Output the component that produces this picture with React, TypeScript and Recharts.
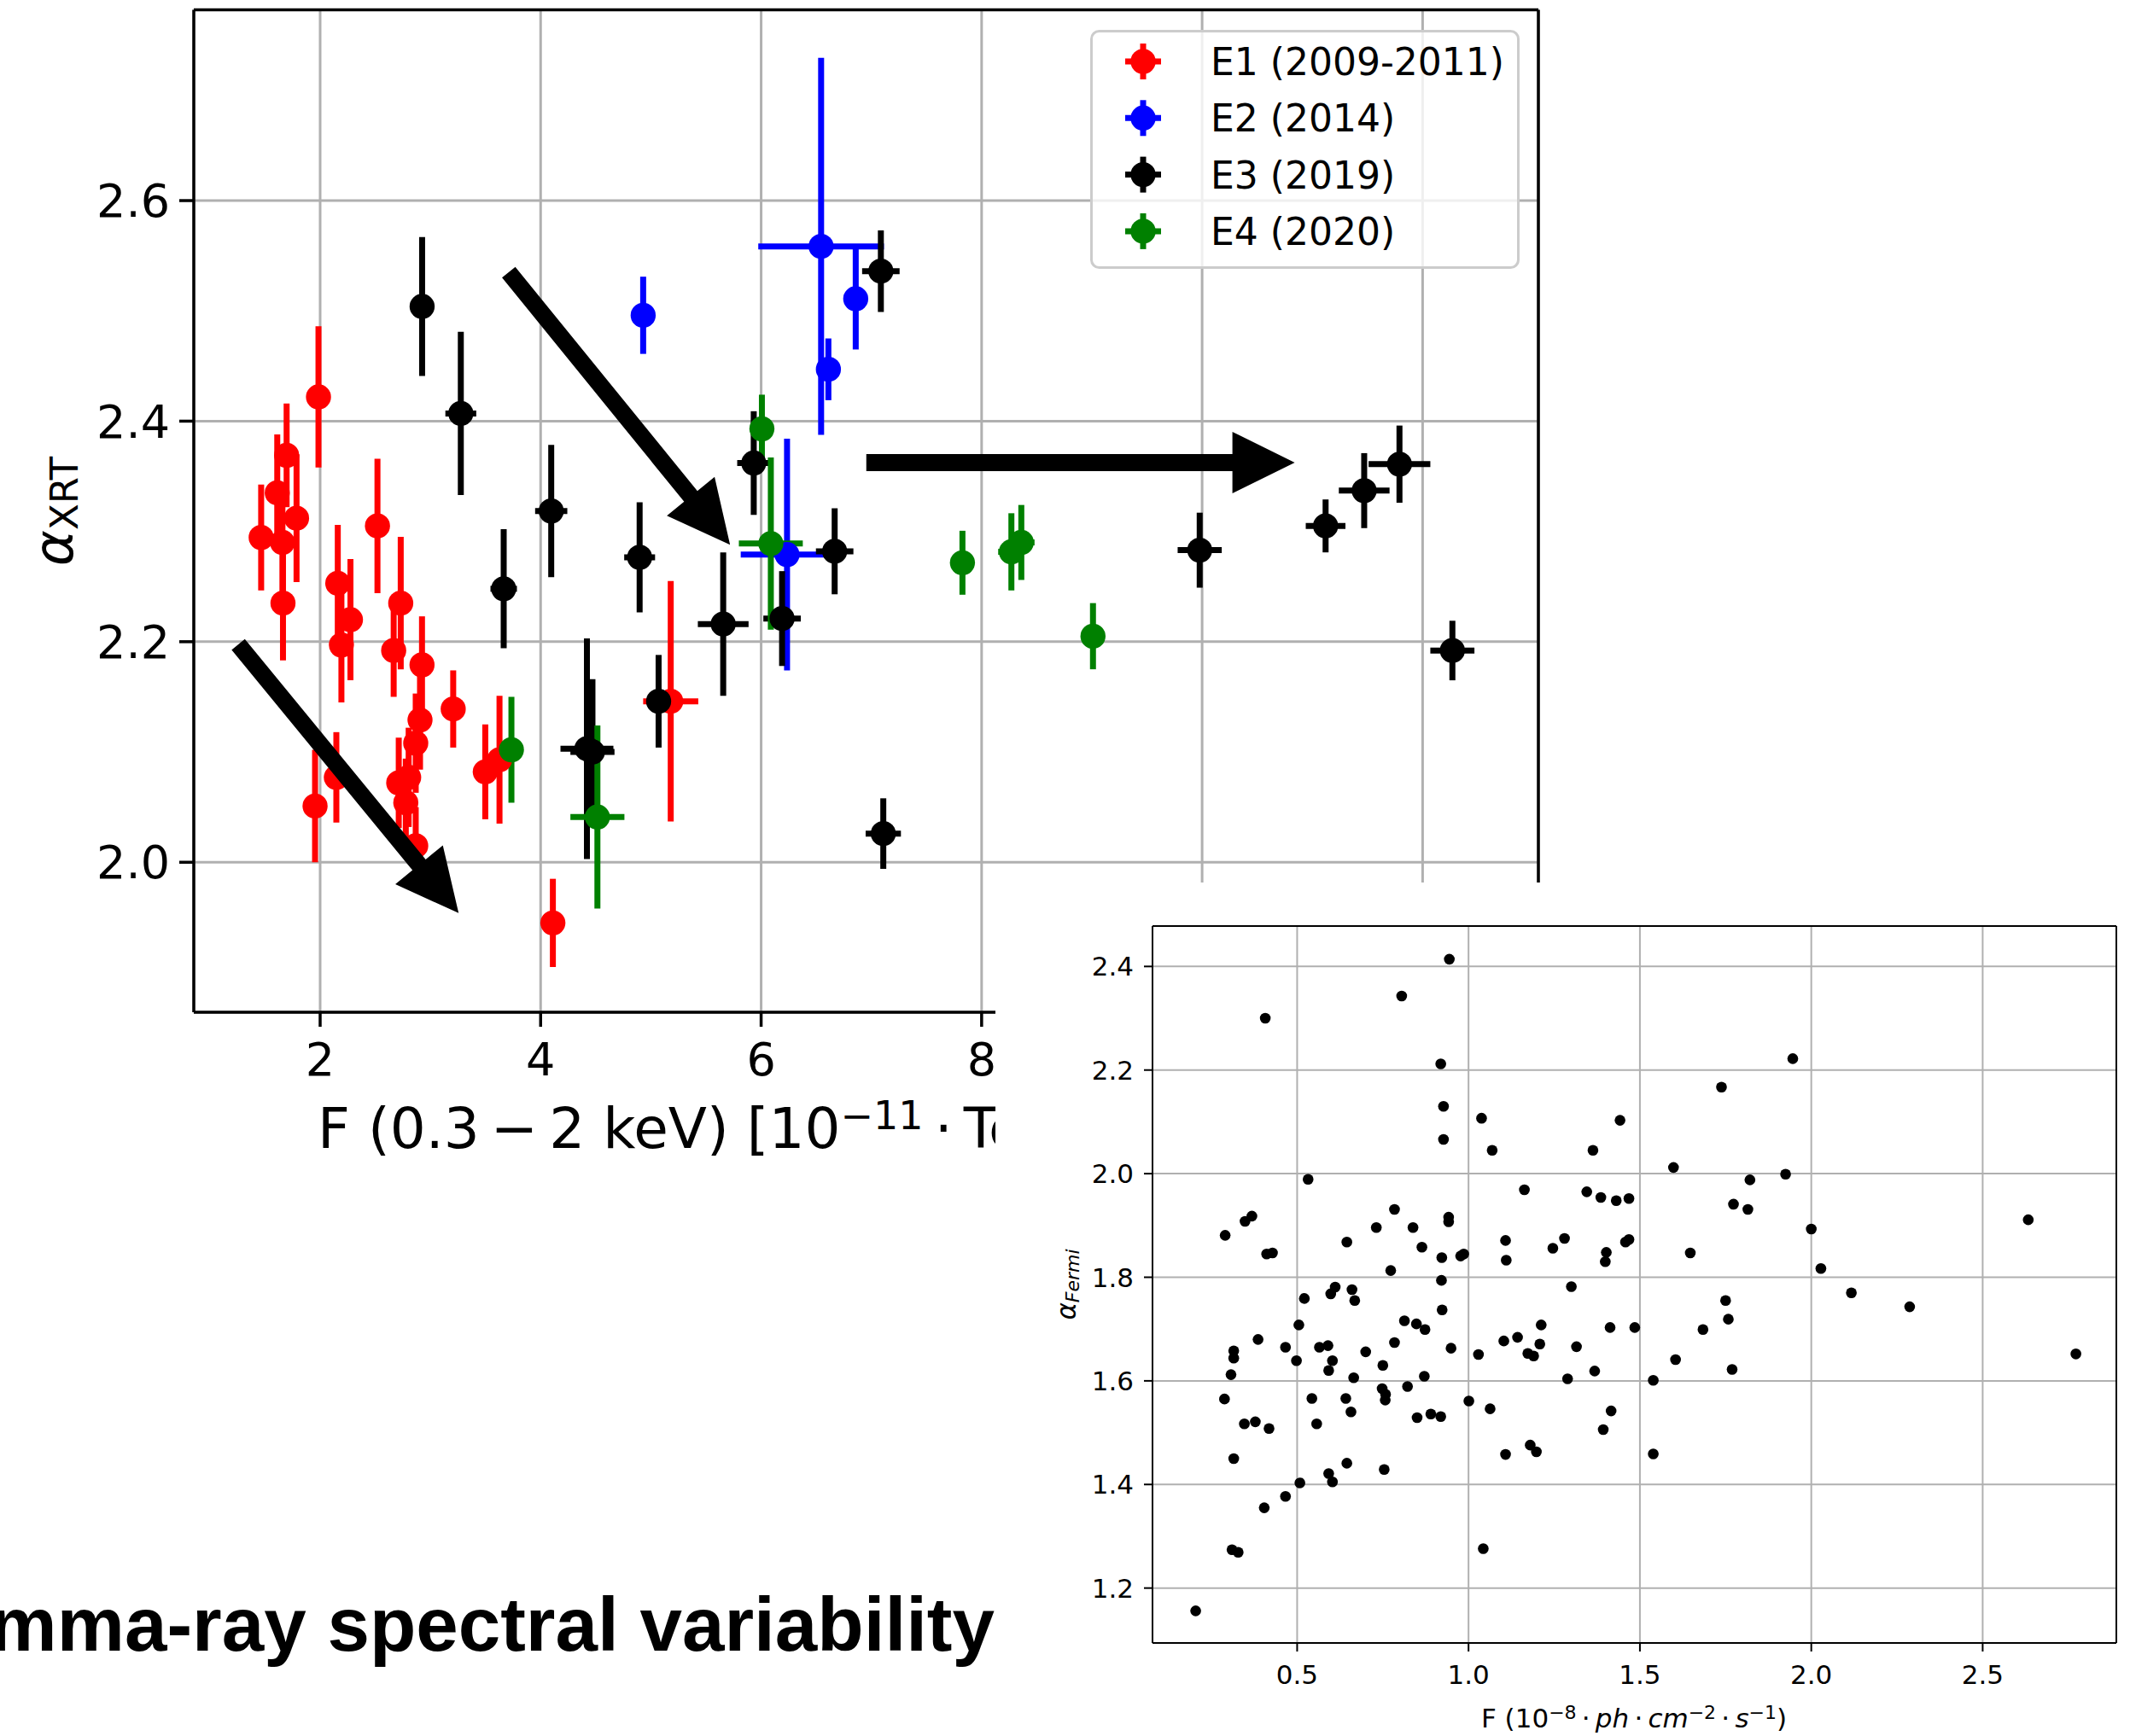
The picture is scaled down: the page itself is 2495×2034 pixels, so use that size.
import React from "react";
import { ScatterChart, Scatter, XAxis, YAxis, CartesianGrid, ErrorBar, ReferenceLine } from "recharts";

const FONT = "'DejaVu Sans', sans-serif";

// Swift-XRT photon index vs 0.3-2 keV flux, one group per epoch
const E1_FLUX = [1.465, 1.611, 1.696, 1.658, 1.786, 1.663, 1.985, 2.16, 2.275, 2.193, 2.52, 2.731, 2.667, 2.924, 2.906, 2.867, 3.207, 3.498, 3.627, 1.954, 2.147, 2.713, 2.803, 2.777, 2.867, 4.111, 5.18];
const E1_ALPHA = [2.2945, 2.335, 2.369, 2.29, 2.312, 2.235, 2.422, 2.253, 2.22, 2.197, 2.305, 2.235, 2.192, 2.179, 2.129, 2.108, 2.139, 2.082, 2.093, 2.051, 2.077, 2.072, 2.077, 2.054, 2.015, 1.945, 2.146];
const E1_FLUX_ERR = [0.06, 0.06, 0.06, 0.06, 0.06, 0.06, 0.06, 0.06, 0.06, 0.06, 0.06, 0.06, 0.06, 0.06, 0.06, 0.06, 0.06, 0.06, 0.06, 0.06, 0.06, 0.06, 0.06, 0.06, 0.06, 0.06, 0.25];
const E1_ALPHA_ERR = [0.048, 0.053, 0.047, 0.05, 0.058, 0.052, 0.064, 0.053, 0.055, 0.052, 0.061, 0.06, 0.042, 0.044, 0.045, 0.045, 0.035, 0.043, 0.058, 0.051, 0.041, 0.041, 0.045, 0.04, 0.035, 0.04, 0.109];

const E2_FLUX = [4.93, 6.544, 6.858, 6.61, 6.235];
const E2_ALPHA = [2.496, 2.5585, 2.511, 2.447, 2.279];
const E2_FLUX_ERR = [0.08, 0.57, 0.1, 0.1, 0.42];
const E2_ALPHA_ERR = [0.035, 0.171, 0.046, 0.028, 0.105];

const E3_FLUX = [2.925, 3.276, 4.096, 3.665, 4.898, 5.656, 5.07, 4.42, 4.47, 5.933, 6.19, 6.667, 7.086, 7.108, 9.978, 11.12, 11.47, 11.79, 12.27];
const E3_ALPHA = [2.504, 2.407, 2.3185, 2.248, 2.2765, 2.216, 2.146, 2.103, 2.1, 2.362, 2.221, 2.282, 2.536, 2.026, 2.283, 2.305, 2.337, 2.361, 2.192];
const E3_FLUX_ERR = [0.08, 0.14, 0.146, 0.12, 0.14, 0.23, 0.1, 0.24, 0.2, 0.15, 0.17, 0.17, 0.17, 0.16, 0.2, 0.18, 0.23, 0.28, 0.2];
const E3_ALPHA_ERR = [0.063, 0.074, 0.06, 0.054, 0.05, 0.065, 0.042, 0.1, 0.066, 0.047, 0.043, 0.039, 0.037, 0.032, 0.034, 0.024, 0.034, 0.035, 0.027];

const E4_FLUX = [3.735, 4.515, 6.007, 6.088, 7.826, 8.27, 8.36, 9.01];
const E4_ALPHA = [2.102, 2.041, 2.393, 2.289, 2.2716, 2.2815, 2.29, 2.205];
const E4_FLUX_ERR = [0.08, 0.245, 0.08, 0.29, 0.1, 0.12, 0.12, 0.1];
const E4_ALPHA_ERR = [0.048, 0.083, 0.031, 0.078, 0.029, 0.035, 0.034, 0.03];

const SERIES_NAMES = ["E1 (2009-2011)", "E2 (2014)", "E3 (2019)", "E4 (2020)"];
const SERIES_COLORS = ["#ff0000", "#0000ff", "#000000", "#008000"];

const MAIN_X_TICKS = [2, 4, 6, 8, 10, 12];
const MAIN_Y_TICKS = [2.0, 2.2, 2.4, 2.6];
const MAIN_X_MIN = 0.854;
const MAIN_X_MAX = 13.05;
const MAIN_Y_MIN = 1.864;
const MAIN_Y_MAX = 2.773;

// annotation arrows, in data units of the main plot
const ARROW_FROM_F = [3.71, 1.257, 6.954];
const ARROW_FROM_ALPHA = [2.535, 2.1975, 2.3625];
const ARROW_TO_F = [5.718, 3.256, 10.84];
const ARROW_TO_ALPHA = [2.288, 1.954, 2.3625];

// Fermi-LAT inset: photon index vs flux
const FERMI_FLUX = [
  0.944, 0.805, 0.407, 0.919, 0.927, 1.038, 0.927, 1.069, 0.532, 0.784, 0.368, 0.348, 0.29, 0.942, 0.942, 0.731, 0.838, 0.645, 0.864, 0.411, 0.428, 0.922, 0.977, 0.986, 1.108, 1.11, 0.773, 0.921,
  1.946, 1.738, 1.442, 1.363, 1.598, 1.925, 1.821, 1.163, 1.345, 1.386, 1.431, 1.468, 1.773, 1.815, 2.0, 1.28, 1.246, 1.402, 1.399, 1.458, 1.468, 1.647, 2.028,
  0.611, 0.598, 0.66, 0.668, 0.521, 0.923, 0.505, 0.813, 0.848, 0.873, 1.103, 0.386, 0.315, 0.315, 0.307, 0.466, 0.565, 0.59, 0.498, 0.603, 0.592, 0.7, 0.784, 0.949, 1.029, 0.75, 0.665, 0.871, 0.822, 0.748, 0.758, 0.757, 0.288, 0.543, 0.642, 0.657, 1.001, 1.063, 0.85, 0.89, 0.919, 0.346, 0.378, 0.418, 0.557, 0.315, 1.108, 0.645, 0.754, 0.592, 0.603, 0.508, 0.466, 0.404, 0.31, 0.328, 1.043, 0.204,
  1.3, 2.117, 1.75, 1.758, 1.212, 1.143, 1.208, 1.173, 1.19, 1.315, 1.413, 1.485, 1.684, 1.604, 1.769, 1.368, 1.289, 1.539, 1.416, 1.393, 1.18, 1.198, 1.539,
  2.287, 2.633, 2.772,
];
const FERMI_ALPHA = [
  2.414, 2.343, 2.3, 2.212, 2.13, 2.107, 2.066, 2.045, 1.989, 1.931, 1.918, 1.908, 1.881, 1.916, 1.907, 1.896, 1.896, 1.868, 1.858, 1.845, 1.847, 1.838, 1.841, 1.845, 1.871, 1.833, 1.813, 1.794,
  2.222, 2.167, 2.103, 2.045, 2.012, 1.999, 1.988, 1.969, 1.965, 1.954, 1.948, 1.952, 1.941, 1.931, 1.893, 1.875, 1.856, 1.848, 1.83, 1.868, 1.873, 1.847, 1.817,
  1.781, 1.768, 1.776, 1.755, 1.759, 1.737, 1.708, 1.716, 1.71, 1.699, 1.677, 1.68, 1.658, 1.644, 1.612, 1.665, 1.665, 1.668, 1.639, 1.639, 1.62, 1.656, 1.674, 1.663, 1.651, 1.63, 1.606, 1.609, 1.589, 1.585, 1.574, 1.563, 1.565, 1.566, 1.566, 1.54, 1.561, 1.546, 1.529, 1.536, 1.531, 1.517, 1.521, 1.508, 1.517, 1.45, 1.458, 1.441, 1.429, 1.421, 1.405, 1.403, 1.377, 1.355, 1.274, 1.269, 1.276, 1.156,
  1.782, 1.77, 1.755, 1.719, 1.708, 1.684, 1.671, 1.653, 1.648, 1.666, 1.703, 1.703, 1.699, 1.641, 1.622, 1.619, 1.604, 1.601, 1.542, 1.506, 1.476, 1.463, 1.459,
  1.743, 1.911, 1.652,
];
const INSET_X_TICKS = [0.5, 1.0, 1.5, 2.0, 2.5];
const INSET_Y_TICKS = [1.2, 1.4, 1.6, 1.8, 2.0, 2.2, 2.4];
const INSET_X_MIN = 0.078;
const INSET_X_MAX = 2.89;
const INSET_Y_MIN = 1.094;
const INSET_Y_MAX = 2.478;

const rows = (f: number[], a: number[], fe: number[], ae: number[]) =>
  f.map((x, i) => ({ x, y: a[i], ex: fe[i], ey: ae[i] }));

const series = [
  rows(E1_FLUX, E1_ALPHA, E1_FLUX_ERR, E1_ALPHA_ERR),
  rows(E2_FLUX, E2_ALPHA, E2_FLUX_ERR, E2_ALPHA_ERR),
  rows(E3_FLUX, E3_ALPHA, E3_FLUX_ERR, E3_ALPHA_ERR),
  rows(E4_FLUX, E4_ALPHA, E4_FLUX_ERR, E4_ALPHA_ERR),
].map((data, i) => ({ data, name: SERIES_NAMES[i], color: SERIES_COLORS[i] }));

const fermiData = FERMI_FLUX.map((x, i) => ({ x, y: FERMI_ALPHA[i] }));

// thick filled arrow between the two reference points
const Arrow = (p: any) => {
  const { x1, y1, x2, y2 } = p;
  const len = Math.hypot(x2 - x1, y2 - y1) || 1;
  const ux = (x2 - x1) / len;
  const uy = (y2 - y1) / len;
  const nx = -uy;
  const ny = ux;
  const sw = 10, hw = 36, hl = 73;
  const bx = x2 - ux * hl;
  const by = y2 - uy * hl;
  const pts = [
    [x1 + nx * sw, y1 + ny * sw],
    [bx + nx * sw, by + ny * sw],
    [bx + nx * hw, by + ny * hw],
    [x2, y2],
    [bx - nx * hw, by - ny * hw],
    [bx - nx * sw, by - ny * sw],
    [x1 - nx * sw, y1 - ny * sw],
  ];
  return <polygon points={pts.map((q) => q.join(",")).join(" ")} fill="#000" />;
};

const MainChart = () => (
  <ScatterChart width={1900} height={1400} margin={{ top: 11.5, right: 98, bottom: 64, left: 27 }}>
    <CartesianGrid stroke="#b0b0b0" strokeWidth={3} />
    <XAxis
      type="number"
      dataKey="x"
      domain={[MAIN_X_MIN, MAIN_X_MAX]}
      ticks={MAIN_X_TICKS}
      interval={0}
      allowDataOverflow
      height={150}
      tickSize={17}
      tickMargin={19}
      axisLine={{ stroke: "#000", strokeWidth: 3.5 }}
      tickLine={{ stroke: "#000", strokeWidth: 3.5 }}
      tick={{ fontSize: 54, fill: "#000", fontFamily: FONT }}
    />
    <YAxis
      type="number"
      dataKey="y"
      domain={[MAIN_Y_MIN, MAIN_Y_MAX]}
      ticks={MAIN_Y_TICKS}
      interval={0}
      allowDataOverflow
      width={200}
      tickSize={17}
      tickMargin={11}
      tickFormatter={(v: number) => v.toFixed(1)}
      axisLine={{ stroke: "#000", strokeWidth: 3.5 }}
      tickLine={{ stroke: "#000", strokeWidth: 3.5 }}
      tick={{ fontSize: 54, fill: "#000", fontFamily: FONT }}
    />
    {series.map((s) => (
      <Scatter
        key={s.name}
        name={s.name}
        data={s.data}
        fill={s.color}
        isAnimationActive={false}
        shape={(p: any) => <circle cx={p.cx} cy={p.cy} r={14.7} fill={s.color} />}
      >
        <ErrorBar dataKey="ex" direction="x" width={0} stroke={s.color} strokeWidth={7} isAnimationActive={false} />
        <ErrorBar dataKey="ey" direction="y" width={0} stroke={s.color} strokeWidth={7} isAnimationActive={false} />
      </Scatter>
    ))}
    <ReferenceLine x={MAIN_X_MAX} stroke="#000" strokeWidth={3.5} />
    <ReferenceLine y={MAIN_Y_MAX} stroke="#000" strokeWidth={3.5} />
    {ARROW_FROM_F.map((f, i) => (
      <ReferenceLine
        key={i}
        segment={[
          { x: f, y: ARROW_FROM_ALPHA[i] },
          { x: ARROW_TO_F[i], y: ARROW_TO_ALPHA[i] },
        ]}
        shape={Arrow}
        zIndex={1500}
      />
    ))}
  </ScatterChart>
);

const InsetChart = () => (
  <ScatterChart width={1329} height={1000} margin={{ top: 51, right: 16, bottom: 49, left: 64 }}>
    <CartesianGrid stroke="#b0b0b0" strokeWidth={2} />
    <XAxis
      type="number"
      dataKey="x"
      domain={[INSET_X_MIN, INSET_X_MAX]}
      ticks={INSET_X_TICKS}
      interval={0}
      allowDataOverflow
      height={60}
      tickSize={10}
      tickMargin={16}
      tickFormatter={(v: number) => v.toFixed(1)}
      axisLine={{ stroke: "#000", strokeWidth: 2 }}
      tickLine={{ stroke: "#000", strokeWidth: 2 }}
      tick={{ fontSize: 31, fill: "#000", fontFamily: FONT }}
    />
    <YAxis
      type="number"
      dataKey="y"
      domain={[INSET_Y_MIN, INSET_Y_MAX]}
      ticks={INSET_Y_TICKS}
      interval={0}
      allowDataOverflow
      width={120}
      tickSize={10}
      tickMargin={12}
      tickFormatter={(v: number) => v.toFixed(1)}
      axisLine={{ stroke: "#000", strokeWidth: 2 }}
      tickLine={{ stroke: "#000", strokeWidth: 2 }}
      tick={{ fontSize: 31, fill: "#000", fontFamily: FONT }}
    />
    <Scatter
      data={fermiData}
      fill="#000"
      isAnimationActive={false}
      shape={(p: any) => <circle cx={p.cx} cy={p.cy} r={6.3} fill="#000" />}
    />
    <ReferenceLine x={INSET_X_MAX} stroke="#000" strokeWidth={2} />
    <ReferenceLine y={INSET_Y_MAX} stroke="#000" strokeWidth={2} />
  </ScatterChart>
);

const TS = "\u2009";

export default function App() {
  return (
    <div style={{ position: "absolute", left: 0, top: 0, width: 2495, height: 2034, overflow: "hidden", background: "#fff" }}>
      <div style={{ position: "absolute", left: 0, top: 0 }}>
        <MainChart />
      </div>

      {/* axis labels of the main plot */}
      <svg style={{ position: "absolute", left: 0, top: 0 }} width={1900} height={1400} fontFamily={FONT}>
        <text x={372} y={1345} fontSize={66} fill="#000">
          F (0.3{TS}−{TS}2 keV) [10
          <tspan dy={-22} fontSize={46}>−11</tspan>
          <tspan dy={22}>{TS}·{TS}TeV cm</tspan>
          <tspan dy={-22} fontSize={46}>−2</tspan>
          <tspan dy={22}>{TS}s</tspan>
          <tspan dy={-22} fontSize={46}>−1</tspan>
          <tspan dy={22}>]</tspan>
        </text>
        <text transform="rotate(-90 85 599)" x={85} y={599} textAnchor="middle" fontSize={64} fill="#000">
          <tspan fontStyle="italic">α</tspan>
          <tspan fontSize={45} dy={6}>XRT</tspan>
        </text>
      </svg>

      {/* legend */}
      <svg style={{ position: "absolute", left: 1277, top: 35 }} width={506} height={283} fontFamily={FONT}>
        <rect x={1.5} y={1.5} width={500} height={277} rx={9} fill="rgba(255,255,255,0.8)" stroke="#cccccc" strokeWidth={3} />
        {SERIES_NAMES.map((name, i) => {
          const cy = 37 + i * 66.3;
          return (
            <g key={name}>
              <line x1={62} x2={62} y1={cy - 21} y2={cy + 21} stroke={SERIES_COLORS[i]} strokeWidth={7} />
              <line x1={41} x2={83} y1={cy} y2={cy} stroke={SERIES_COLORS[i]} strokeWidth={7} />
              <circle cx={62} cy={cy} r={14.7} fill={SERIES_COLORS[i]} />
              <text x={141} y={cy + 16} fontSize={44} fill="#000">{name}</text>
            </g>
          );
        })}
      </svg>

      {/* slide caption */}
      <svg style={{ position: "absolute", left: 0, top: 1780 }} width={1166} height={254}>
        <text x={1165} y={154} textAnchor="end" fontFamily="'Liberation Sans', Arial, sans-serif" fontWeight="bold" fontSize={89} fill="#000">
          Gamma-ray spectral variability
        </text>
      </svg>

      {/* Fermi inset, pasted over the lower right of the main plot */}
      <div style={{ position: "absolute", left: 1166, top: 1034, width: 1329, height: 1000, background: "#fff" }}>
        <InsetChart />
        <svg style={{ position: "absolute", left: 0, top: 0 }} width={1329} height={1000} fontFamily={FONT}>
          <text x={748} y={990} textAnchor="middle" fontSize={31} fill="#000">
            F (10
            <tspan dy={-10} fontSize={22}>−8</tspan>
            <tspan dy={10}>{TS}·{TS}</tspan>
            <tspan fontStyle="italic">ph</tspan>
            <tspan>{TS}·{TS}</tspan>
            <tspan fontStyle="italic">cm</tspan>
            <tspan dy={-10} fontSize={22}>−2</tspan>
            <tspan dy={10}>{TS}·{TS}</tspan>
            <tspan fontStyle="italic">s</tspan>
            <tspan dy={-10} fontSize={22}>−1</tspan>
            <tspan dy={10}>)</tspan>
          </text>
          <text transform="rotate(-90 94 471)" x={94} y={471} textAnchor="middle" fontSize={31} fill="#000">
            <tspan fontStyle="italic">α</tspan>
            <tspan fontSize={22} dy={4} fontStyle="italic">Fermi</tspan>
          </text>
        </svg>
      </div>
    </div>
  );
}
